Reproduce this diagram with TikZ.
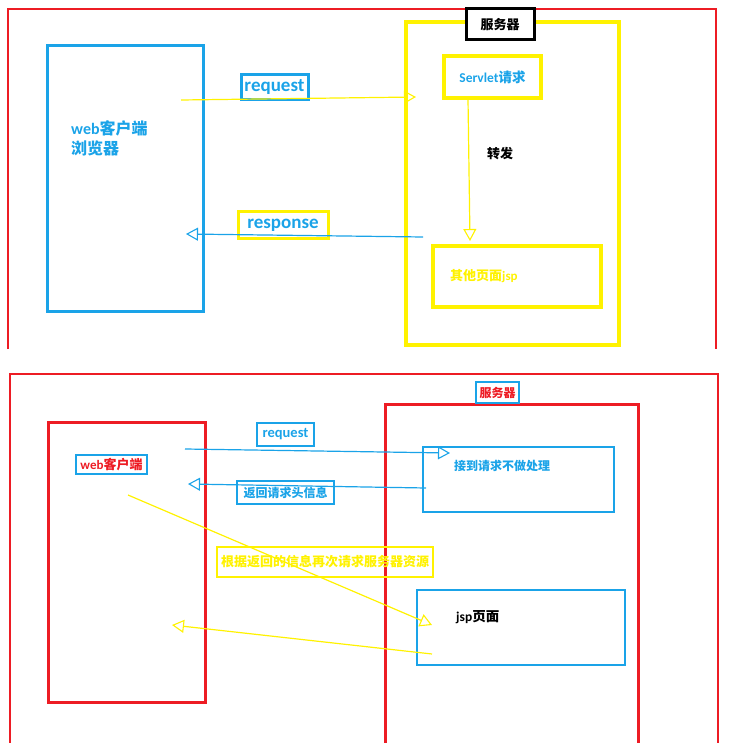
\documentclass[tikz,border=0pt]{standalone}
\usepackage{fontspec}
\setmainfont{Carlito}[BoldFont={Carlito Bold}]
\newfontfamily\cjk{Noto Sans CJK SC}
\newcommand\zh[1]{{\cjk #1}}
\usetikzlibrary{arrows.meta}
\definecolor{pblue}{HTML}{1AA3E8}
\definecolor{pyellow}{HTML}{FFF200}
\definecolor{pred}{HTML}{ED1C24}
\tikzset{
  box/.style={draw=#1, inner sep=0, outer sep=0},
  txt/.style={font=\bfseries\fontsize{#1}{#1}\selectfont, inner sep=0},
  arr/.style={draw=#1, line width=1.2pt, -{Triangle[open, length=12pt, width=13pt, line width=1.1pt]}},
}
\begin{document}
\begin{tikzpicture}[x=1pt, y=-1pt]
  \useasboundingbox (0,0) rectangle (729,743);
  % upper panel: forward
  \draw[pred, line width=1.5pt] (8,349) |- (716,9) -- (716,349);
  \foreach \n/\cx/\cy/\w/\h/\c/\lw in {client/125/178.5/156/265/pblue/3, server/512.5/183.5/213/323/pyellow/4,
      servlet/492.5/77/97/42/pyellow/3.5, other/517/276.5/168/61/pyellow/3.5,
      reqlbl/274.5/87.5/67/25/pblue/3, resplbl/283/225/90/26/pyellow/3}
    \node[box=\c, line width=\lw pt, minimum width=\w pt, minimum height=\h pt] (\n) at (\cx,\cy) {};
  \node[box=black, line width=3pt, fill=white, minimum width=68pt, minimum height=31pt, txt=13] (srv) at (500,24.5) {\zh{服务器}};
  \node[txt=16, text=pblue, anchor=west, align=left] (clienttxt) at (71,138) {web\zh{客户端}\\[4pt]\zh{浏览器}};
  \node[txt=13.5, text=pblue] (servlettxt) at (servlet) {Servlet\zh{请求}};
  \node[txt=13, text=pyellow, anchor=west] (othertxt) at (450,276) {\zh{其他页面}jsp};
  \node[txt=13] (fwd) at (500,154) {\zh{转发}};
  \node[txt=19, text=pblue] (reqtxt) at (reqlbl) {request};
  \node[txt=19, text=pblue] (resptxt) at (resplbl) {response};
  \coordinate (c1) at (181,100); \coordinate (s1) at (416,97);
  \coordinate (s2) at (423,237); \coordinate (c2) at (186,234);
  \coordinate (s3) at (468,99); \coordinate (o3) at (470,241);
  \draw[arr=pyellow] (c1) -- (s1);
  \draw[arr=pblue] (s2) -- (c2);
  \draw[arr=pyellow] (s3) -- (o3);
  % lower panel: redirect
  \draw[pred, line width=1.5pt] (10,743) |- (718,374) -- (718,743);
  \draw[pred, line width=3pt] (385,743) |- (638,404) -- (638,743);
  \foreach \n/\cx/\cy/\w/\h/\c/\lw in {client2/126.5/562/157/280/pred/3, recv/518.5/479.5/191/65/pblue/2,
      jsp/521/627.5/208/75/pblue/2, srvlbl/497.5/392.5/43/21/pblue/2.5, clientlbl/111.5/464.5/71/19/pblue/2.5,
      reqlbl2/285.5/434.5/57/23/pblue/2, backlbl/285.5/492.5/97/23/pblue/2, againlbl/325/562/216/30/pyellow/2}
    \node[box=\c, line width=\lw pt, minimum width=\w pt, minimum height=\h pt] (\n) at (\cx,\cy) {};
  \node[txt=12, text=pred] (srvtxt) at (srvlbl) {\zh{服务器}};
  \node[txt=13, text=pred] (clienttxt2) at (clientlbl) {web\zh{客户端}};
  \node[txt=12, text=pblue] (recvtxt) at (502,466) {\zh{接到请求不做处理}};
  \node[txt=13.5, anchor=west] (jsptxt) at (456,617) {jsp\zh{页面}};
  \node[txt=14.5, text=pblue] (reqtxt2) at (reqlbl2) {request};
  \node[txt=12, text=pblue] (backtxt) at (backlbl) {\zh{返回请求头信息}};
  \node[txt=13, text=pyellow] (againtxt) at (againlbl) {\zh{根据返回的信息再次请求服务器资源}};
  \coordinate (c4) at (185,449); \coordinate (r4) at (450,453);
  \coordinate (r5) at (426,488); \coordinate (c5) at (188,484);
  \coordinate (c6) at (128,495); \coordinate (j6) at (432,625);
  \coordinate (j7) at (432,654); \coordinate (c7) at (172,625);
  \draw[arr=pblue] (c4) -- (r4);
  \draw[arr=pblue] (r5) -- (c5);
  \draw[arr=pyellow] (c6) -- (j6);
  \draw[arr=pyellow] (j7) -- (c7);
\end{tikzpicture}
\end{document}
